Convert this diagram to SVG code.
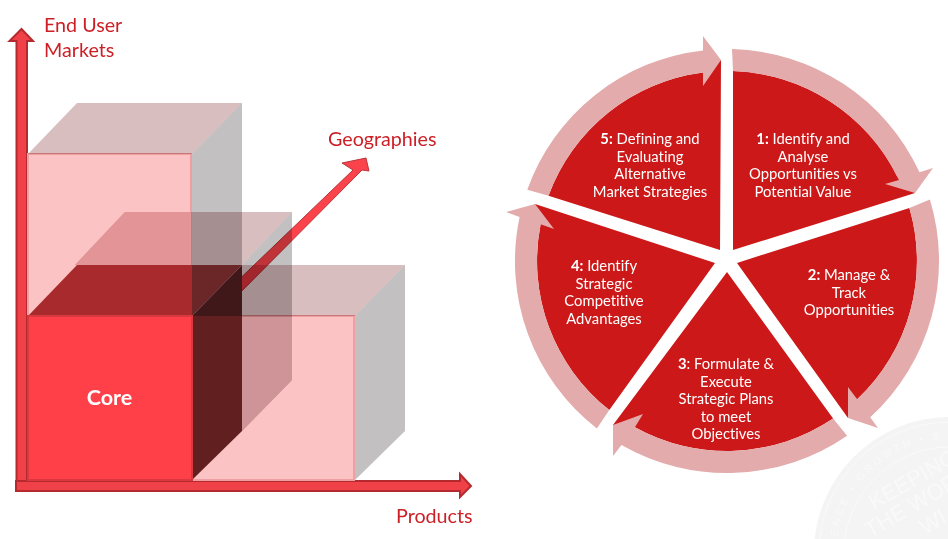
<svg xmlns="http://www.w3.org/2000/svg" width="948" height="539" viewBox="0 0 948 539">
<style>
text{font-family:Lato,"Liberation Sans",sans-serif;font-variant-ligatures:none}
.lab{font-size:19.7px;fill:#CC1F26}
.pt{font-size:14.8px;fill:#fff;text-anchor:middle}
.pt .b{font-weight:700}
.ax{fill:#F04048;stroke:#B52A2E;stroke-width:2}
.top{fill:#D9BEC0;mix-blend-mode:multiply}
.side{fill:#C2C0C0;mix-blend-mode:multiply}
.front{fill:#FCC3C5;stroke:#EE9FA2;stroke-width:2}
.dark{fill:#CC1818}
.ring{fill:#E3ABAB}
.wm{fill:#F9F9F9;font-family:"Liberation Sans",sans-serif}
</style>
<defs>
<path id="wmArc" d="M 836,553 A 114 114 0 0 1 1064,553"/>
</defs>
<g id="watermark">
<circle cx="950" cy="553" r="136" fill="#F4F4F4"/>
<circle cx="950" cy="553" r="131" fill="none" stroke="#FAFAFA" stroke-width="1"/>
<circle cx="950" cy="553" r="106" fill="none" stroke="#FAFAFA" stroke-width="1"/>
<text class="wm" font-size="10.5" letter-spacing="3"><textPath href="#wmArc" startOffset="8">LENCE • GROWTH • S</textPath></text>
<text class="wm" font-size="22" transform="translate(874,510) rotate(-30)">KEEPING</text>
<text class="wm" font-size="22" transform="translate(870,538) rotate(-30)">THE WOR</text>
<text class="wm" font-size="22" transform="translate(925,535) rotate(-30)">WI</text>
</g>
<g id="connectors">
<path id="arrow-geographies" fill="#FB434B" stroke="#B8353A" stroke-width="1" d="M200,317 L353,170 L342,163 L366,158 L369,171 L362,170 L215,318 Z"/>
<path id="axis-markets" class="ax" d="M16.5,491 V41 H9.5 L21.5,29 L33,41 H27 V491 Z"/>
<path id="axis-products" class="ax" d="M16,481 H460 V474 L471,486 L460,497 V491 H16 Z"/>
</g>
<g id="cube-markets">
<rect class="front" x="28" y="154" width="163" height="162"/>
<path class="top" d="M28,154 L77,103 H242 L192,154 Z"/>
<path class="side" d="M192,154 L242,103 V265 L192,316 Z"/>
</g>
<g id="cube-products">
<rect class="front" x="193" y="316" width="161" height="164"/>
<path class="top" d="M192,316 L242,265 H405 L355,316 Z"/>
<path class="side" d="M355,316 L405,265 V431 L355,480 Z"/>
</g>
<g id="cube-geographies">
<path class="top" d="M75,265 L125,212 H292 L242,265 Z"/>
<path fill="#E29496" d="M75,265 L125,212 H191 V265 Z"/>
<path class="side" d="M242,265 L292,212 V380 L242,431 Z"/>
<path fill="#CF9497" d="M242,317 H292 V380 L242,431 Z"/>
</g>
<g id="core">
<path fill="#A82A2D" d="M28,316 L77,265 H192 V316 Z"/>
<path fill="#6B2628" d="M192,265 H242 L192,316 Z"/>
<path fill="#40181A" d="M242,265 V316 H192 Z"/>
<path fill="#611F20" d="M192,316 H242 V431 L192,480 Z"/>
<rect x="28" y="316" width="164" height="164" fill="#FF4049" stroke="#D9383F" stroke-width="2"/>
<text x="109.5" y="405" font-size="21.5" font-weight="700" fill="#fff" text-anchor="middle">Core</text>
</g>
<text class="lab" x="44" y="32">End User</text>
<text class="lab" x="44" y="57">Markets</text>
<text class="lab" x="328" y="146">Geographies</text>
<text class="lab" x="396" y="523">Products</text>
<g id="step-1">
<path class="dark" d="M733,250 V71.1 A190,190 0 0 1 897,175.9 L915,193 Z"/>
<path class="ring" d="M732,49.1 A212,212 0 0 1 919.5,172.3 L933,168 L915,193 L885,184 L898.9,180.1 A190,190 0 0 0 733,71.1 Z"/>
<text class="pt" y="144"><tspan x="803"><tspan class="b">1:</tspan> Identify and</tspan><tspan x="803" dy="17.5">Analyse</tspan><tspan x="803" dy="17.5">Opportunities vs</tspan><tspan x="803" dy="17.5">Potential Value</tspan></text>
</g>
<g id="step-2">
<path class="dark" d="M737,263 L909.4,207.9 A190,190 0 0 1 857.2,399.3 L848,418 Z"/>
<path class="ring" d="M929.9,199.4 A212,212 0 0 1 870.2,417.3 L878,428 L848,418 L848,387 L857.2,399.3 A190,190 0 0 0 909.4,207.9 Z"/>
<text class="pt" y="280"><tspan x="849"><tspan class="b">2:</tspan> Manage &amp;</tspan><tspan x="849" dy="17.5">Track</tspan><tspan x="849" dy="17.5">Opportunities</tspan></text>
</g>
<g id="step-3">
<path class="dark" d="M727,272 L833.1,418.6 A190,190 0 0 1 634.9,427.2 L613,425 Z"/>
<path class="ring" d="M847.1,435.7 A212,212 0 0 1 621.5,444.9 L613,456 L613,425 L643,414 L634.9,427.2 A190,190 0 0 0 833.1,418.6 Z"/>
<text class="pt" y="369"><tspan x="726"><tspan class="b">3</tspan>: Formulate &amp;</tspan><tspan x="726" dy="17.5">Execute</tspan><tspan x="726" dy="17.5">Strategic Plans</tspan><tspan x="726" dy="17.5">to meet</tspan><tspan x="726" dy="17.5">Objectives</tspan></text>
</g>
<g id="step-4">
<path class="dark" d="M715,263 L609.3,410.1 A190,190 0 0 1 540.6,224.3 L535,204 Z"/>
<path class="ring" d="M596.9,428.4 A212,212 0 0 1 519.6,216.9 L506,212 L535,204 L554,229 L540.6,224.3 A190,190 0 0 0 609.3,410.1 Z"/>
<text class="pt" y="271"><tspan x="604"><tspan class="b">4:</tspan> Identify</tspan><tspan x="604" dy="17.5">Strategic</tspan><tspan x="604" dy="17.5">Competitive</tspan><tspan x="604" dy="17.5">Advantages</tspan></text>
</g>
<g id="step-5">
<path class="dark" d="M720,250 L548.5,195.8 A190,190 0 0 1 703,72.5 L721,60 Z"/>
<path class="ring" d="M527.3,189.8 A212,212 0 0 1 703,50.4 L703,36 L721,60 L703,86 L703,72.5 A190,190 0 0 0 548.5,195.8 Z"/>
<text class="pt" y="144"><tspan x="650"><tspan class="b">5:</tspan> Defining and</tspan><tspan x="650" dy="17.5">Evaluating</tspan><tspan x="650" dy="17.5">Alternative</tspan><tspan x="650" dy="17.5">Market Strategies</tspan></text>
</g>
</svg>
